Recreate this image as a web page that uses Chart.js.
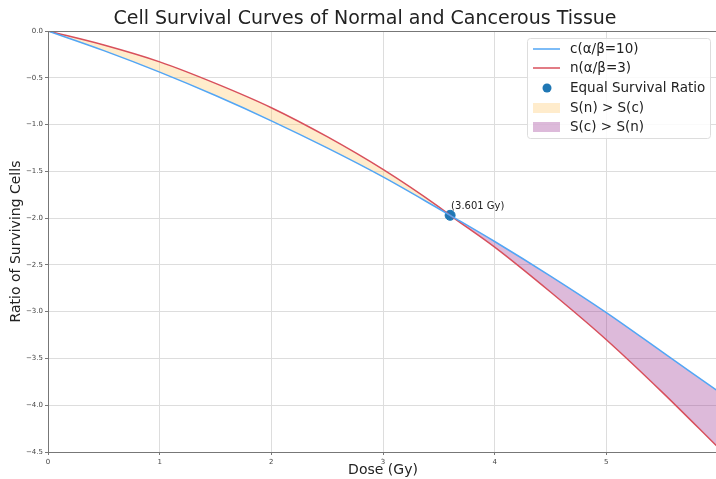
<!DOCTYPE html>
<html>
<head>
<meta charset="utf-8">
<script src="https://cdn.jsdelivr.net/npm/chart.js@4"></script>
<style>
  html, body { margin: 0; padding: 0; background: #fff; overflow: hidden; }
  #wrap { position: relative; width: 716px; height: 479px; overflow: hidden; }
  #box { position: absolute; left: 0; top: 0; width: 724px; height: 479px; }
</style>
</head>
<body>
<div id="wrap"><div id="box"><canvas id="chart"></canvas></div></div>
<script>
// Valores
const doseGy = [0, 0.5, 1, 1.5, 2, 2.5, 3, 3.5, 3.601, 4, 4.5, 5, 5.5, 6];
const cancerLog = [0, -0.21, -0.44, -0.69, -0.96, -1.25, -1.56, -1.90, -1.97, -2.25, -2.62, -3.01, -3.43, -3.85];
const normalLog = [0, -0.15, -0.33, -0.56, -0.82, -1.13, -1.48, -1.88, -1.97, -2.31, -2.79, -3.30, -3.86, -4.45];
const equalPoint = { x: 3.601, y: -1.97 };
const legendLabels = ['c(α/β=10)', 'n(α/β=3)', 'Equal Survival Ratio', 'S(n) > S(c)', 'S(c) > S(n)'];

const FONT = 'DejaVu Sans';
const BLUE = '#52a6f5';
const RED = '#d8505c';
const ORANGE_FILL = 'rgba(255, 200, 110, 0.35)';
const PURPLE_FILL = 'rgba(150, 40, 140, 0.32)';
const DOT = '#1f77b4';

const toPoints = ys => doseGy.map((x, i) => ({ x, y: ys[i] }));

// Desenha moldura, legenda e anotação
const extras = {
  id: 'extras',
  afterDraw(chart) {
    const { ctx, chartArea: a, scales } = chart;
    ctx.save();
    ctx.strokeStyle = '#777';
    ctx.lineWidth = 1;
    ctx.strokeRect(a.left + 0.5, a.top + 0.5, a.right - a.left, a.bottom - a.top);

    // anotação do ponto de cruzamento
    const px = scales.x.getPixelForValue(equalPoint.x);
    const py = scales.y.getPixelForValue(equalPoint.y);
    ctx.fillStyle = '#222';
    ctx.font = `10px "${FONT}"`;
    ctx.textBaseline = 'alphabetic';
    ctx.fillText('(3.601 Gy)', px + 1, py - 6);

    // legenda
    const lx = 527, ly = 38, lw = 183, lh = 100;
    ctx.fillStyle = 'rgba(255,255,255,0.85)';
    ctx.strokeStyle = '#ddd';
    ctx.beginPath();
    ctx.roundRect(lx + 0.5, ly + 0.5, lw, lh, 3);
    ctx.fill();
    ctx.stroke();

    ctx.font = `13.5px "${FONT}"`;
    ctx.textBaseline = 'middle';
    const rows = [49, 68, 88, 108, 127];
    rows.forEach((ry, i) => {
      if (i < 2) {
        ctx.strokeStyle = i === 0 ? BLUE : RED;
        ctx.lineWidth = 1.5;
        ctx.beginPath();
        ctx.moveTo(533, ry);
        ctx.lineTo(560, ry);
        ctx.stroke();
      } else if (i === 2) {
        ctx.fillStyle = DOT;
        ctx.beginPath();
        ctx.arc(547, ry, 4.5, 0, Math.PI * 2);
        ctx.fill();
      } else {
        ctx.fillStyle = i === 3 ? ORANGE_FILL : PURPLE_FILL;
        ctx.fillRect(533, ry - 5, 27, 10);
      }
      ctx.fillStyle = '#222';
      ctx.fillText(legendLabels[i], 570, ry);
    });
    ctx.restore();
  }
};

const tickFmt = v => {
  if (Math.abs(v) < 1e-9) return '0.0';
  return v.toFixed(1).replace('-', '−');
};

new Chart(document.getElementById('chart'), {
  type: 'line',
  data: {
    datasets: [
      {
        label: legendLabels[0],
        data: toPoints(cancerLog),
        borderColor: BLUE,
        borderWidth: 1.5,
        pointRadius: 0,
        cubicInterpolationMode: 'monotone',
        fill: false
      },
      {
        label: legendLabels[1],
        data: toPoints(normalLog),
        borderColor: RED,
        borderWidth: 1.5,
        pointRadius: 0,
        cubicInterpolationMode: 'monotone',
        fill: { target: 0, above: ORANGE_FILL, below: PURPLE_FILL }
      },
      {
        label: legendLabels[2],
        data: [equalPoint],
        showLine: false,
        pointRadius: 5,
        pointBackgroundColor: DOT,
        pointBorderColor: DOT
      }
    ]
  },
  options: {
    responsive: true,
    maintainAspectRatio: false,
    animation: false,
    layout: { padding: { left: 6, right: 0, top: 0, bottom: 0 } },
    plugins: {
      legend: { display: false },
      tooltip: { enabled: false },
      title: {
        display: true,
        text: 'Cell Survival Curves of Normal and Cancerous Tissue',
        color: '#222',
        font: { family: FONT, size: 19, weight: 'normal', lineHeight: 1 },
        padding: { top: 10, bottom: 2 }
      }
    },
    scales: {
      x: {
        type: 'linear',
        min: 0,
        max: 6,
        afterFit: s => { s.height = 27; },
        ticks: { stepSize: 1, color: '#444', font: { family: FONT, size: 7 }, padding: 3 },
        grid: { color: '#ddd', tickLength: 3, tickColor: '#777' },
        border: { color: '#777' },
        title: { display: true, text: 'Dose (Gy)', color: '#222', font: { family: FONT, size: 14 }, padding: { top: 0, bottom: 0 } }
      },
      y: {
        min: -4.5,
        max: 0,
        afterFit: s => { s.width = 42; },
        ticks: { stepSize: 0.5, color: '#444', font: { family: FONT, size: 7 }, padding: 2, callback: tickFmt },
        grid: { color: '#ddd', tickLength: 3, tickColor: '#777' },
        border: { color: '#777' },
        title: { display: true, text: 'Ratio of Surviving Cells', color: '#222', font: { family: FONT, size: 14 }, padding: { top: 2, bottom: 0 } }
      }
    }
  },
  plugins: [extras]
});
</script>
</body>
</html>
